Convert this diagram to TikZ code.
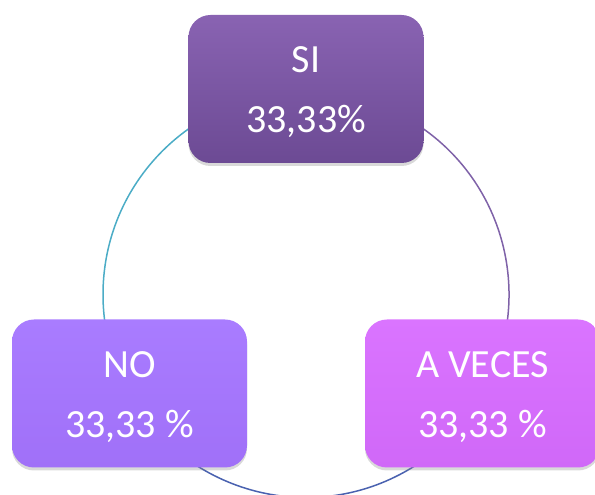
\documentclass[tikz,border=0pt]{standalone}
\usepackage{fontspec}
\setmainfont{Carlito}
\usetikzlibrary{shadows}
\definecolor{siTop}{HTML}{8963B2}
\definecolor{siBot}{HTML}{6C4A94}
\definecolor{noTop}{HTML}{A97CFF}
\definecolor{noBot}{HTML}{A070F8}
\definecolor{avTop}{HTML}{DA74FF}
\definecolor{avBot}{HTML}{D068F8}
\definecolor{arcTeal}{HTML}{4BACC6}
\definecolor{arcPurple}{HTML}{7F62A8}
\definecolor{arcBlue}{HTML}{4A62B0}
\begin{document}
\begin{tikzpicture}[x=1pt,y=1pt,
  box/.style={rounded corners=22pt, minimum width=235pt, minimum height=148pt,
    align=center, text=white, font=\fontsize{40}{60}\selectfont,
    text height=88pt, text depth=0pt,
    drop shadow={opacity=0.3, shadow xshift=0pt, shadow yshift=-3pt}},
  arcline/.style={line width=1.5pt}]
\useasboundingbox (0,0) rectangle (595,495);
\coordinate (O) at (306,200.5);
\draw[arcline, arcTeal] ([shift={(90:203)}]O) arc (90:209:203);
\draw[arcline, arcBlue] ([shift={(209:203)}]O) arc (209:331:203);
\draw[arcline, arcPurple] ([shift={(331:203)}]O) arc (331:450:203);
\node[box, top color=siTop, bottom color=siBot] (si) at (306,406) {SI\\33,33\%};
\node[box, top color=noTop, bottom color=noBot] (no) at (129.5,101.5) {NO\\33,33 \%};
\node[box, top color=avTop, bottom color=avBot] (av) at (482.5,101.5) {A VECES\\33,33 \%};
\end{tikzpicture}
\end{document}
